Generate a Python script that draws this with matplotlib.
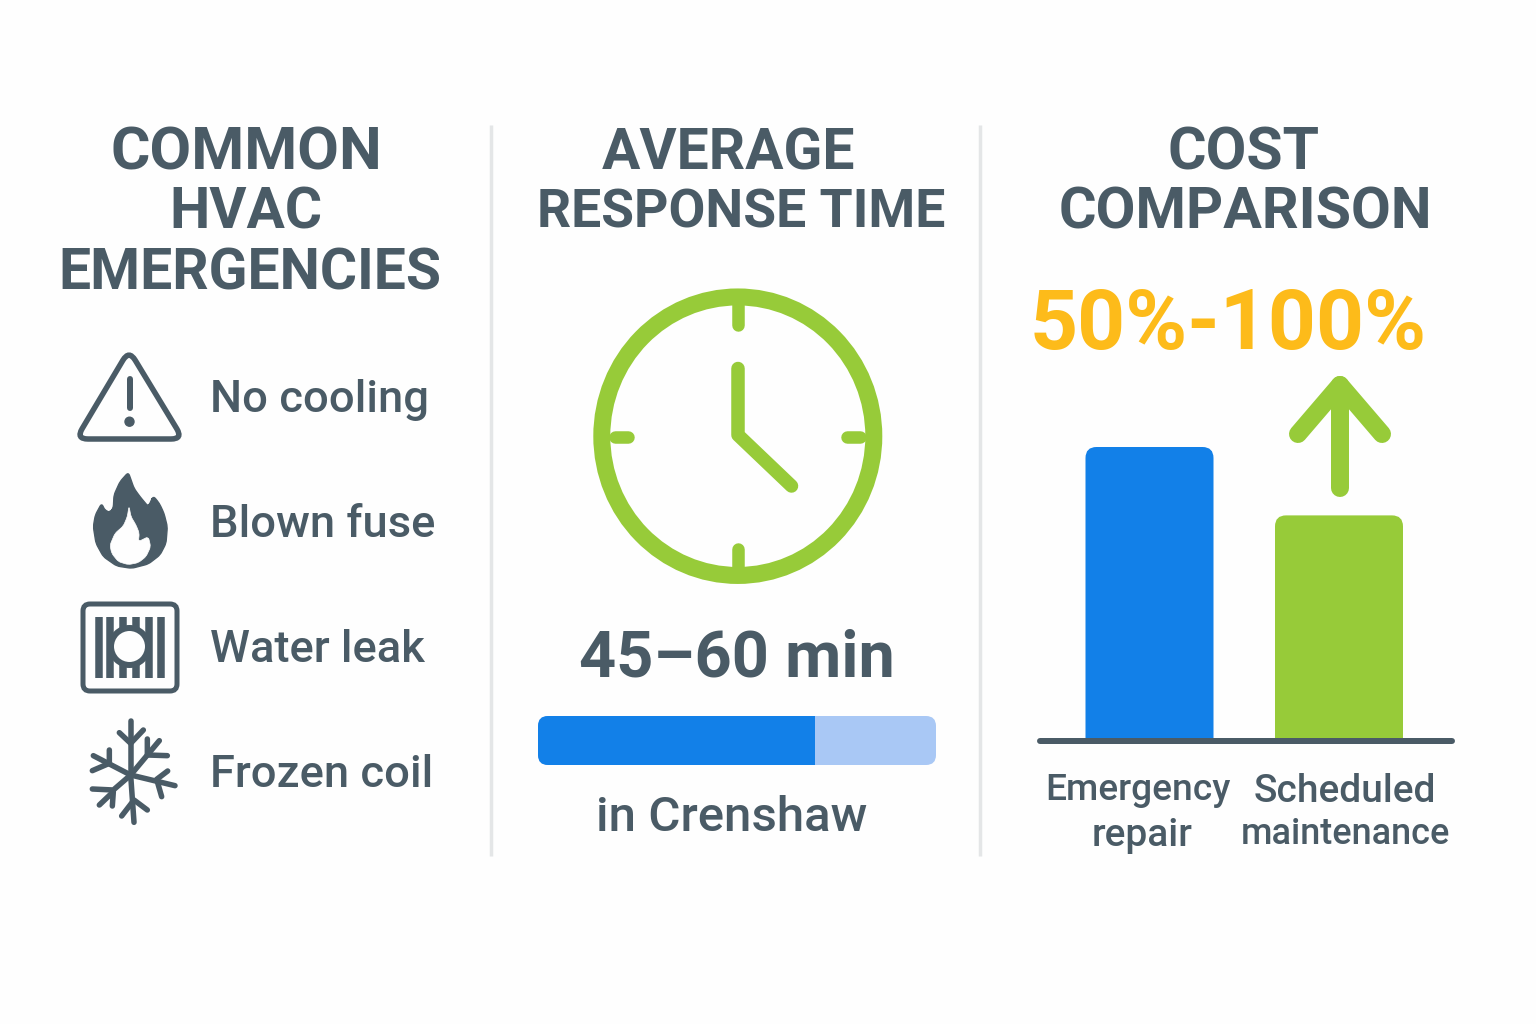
import math
import matplotlib
matplotlib.use('Agg')
import matplotlib.pyplot as plt
from matplotlib.patches import Circle, Ellipse, FancyBboxPatch, Rectangle, PathPatch
from matplotlib.path import Path

plt.rcParams['font.family'] = ['Roboto', 'DejaVu Sans']

# data
emergencies = ['No cooling', 'Blown fuse', 'Water leak', 'Frozen coil']
response_label = '45\u201360 min'
response_share = 0.695
cost_names = ['Emergency', 'repair', 'Scheduled', 'maintenance']
cost_values = [100, 76.5]
increase_label = '50%-100%'

SLATE = '#4a5b66'
BLUE = '#1280e8'
LIGHT = '#a9c8f5'
GREEN = '#97cb39'
YELLOW = '#fdbb1a'
GREY = '#e4e6e7'
BG = '#fefefe'

fig = plt.figure(figsize=(15.36, 10.24), dpi=100, facecolor=BG)
# whole canvas in pixel coordinates, y down
ax = fig.add_axes([0, 0, 1, 1])
ax.set_xlim(0, 1536)
ax.set_ylim(1024, 0)
ax.axis('off')

def px(w):
    return w * 0.72

def rounded_poly(pts, r):
    verts, codes = [], []
    n = len(pts)
    for i in range(n):
        p0, p1, p2 = pts[i - 1], pts[i], pts[(i + 1) % n]
        d0 = math.hypot(p0[0] - p1[0], p0[1] - p1[1])
        d2 = math.hypot(p2[0] - p1[0], p2[1] - p1[1])
        a = (p1[0] + (p0[0] - p1[0]) * r / d0, p1[1] + (p0[1] - p1[1]) * r / d0)
        b = (p1[0] + (p2[0] - p1[0]) * r / d2, p1[1] + (p2[1] - p1[1]) * r / d2)
        verts += [a, p1, b]
        codes += [Path.MOVETO if i == 0 else Path.LINETO, Path.CURVE3, Path.CURVE3]
    verts.append(verts[0])
    codes.append(Path.CLOSEPOLY)
    return Path(verts, codes)

def zoomed(pts, x0, y0):
    return [(x0 + x / 3, y0 + y / 3) for x, y in pts]

# column dividers
for x in [490.5, 979.5]:
    ax.plot([x, x], [125, 856], color=GREY, lw=2.5, solid_capstyle='butt')

# titles
def title(x, y, s, size):
    ax.text(x, y, s, ha='center', va='center', color=SLATE, fontsize=size, fontweight='bold')

title(246, 154, 'COMMON', 43.5)
title(246, 213, 'HVAC', 41)
title(250, 274, 'EMERGENCIES', 41)
title(729, 154, 'AVERAGE', 41)
title(741, 213, 'RESPONSE TIME', 38.5)
title(1243, 154, 'COST', 42.5)
title(1245, 213, 'COMPARISON', 41.5)

# left list
for lab, y in zip(emergencies, [400, 525, 650, 775]):
    ax.text(210, y, lab, ha='left', va='center', color=SLATE, fontsize=32.7, fontweight='medium')

# warning icon
tri = rounded_poly([(129, 350), (183, 439), (76, 439)], 12)
ax.add_patch(PathPatch(tri, fill=False, ec=SLATE, lw=px(5.5)))
ax.plot([129.5, 129.5], [379, 408], color=SLATE, lw=px(6), solid_capstyle='round')
ax.add_patch(Circle((129.5, 421.7), 4.5, color=SLATE))

# flame icon
flame = zoomed([(205, 397), (215, 425), (222, 445), (240, 470), (265, 500), (272, 485), (280, 468),
                (298, 490), (312, 520), (322, 560), (318, 610), (300, 645), (265, 672),
                (215, 685), (170, 678), (130, 650), (108, 610), (100, 560), (106, 525),
                (125, 490), (135, 512), (150, 518), (160, 505), (162, 465), (180, 425)], 60, 340)
ax.add_patch(PathPatch(rounded_poly(flame, 3.5), fc=SLATE, ec=SLATE, lw=1))
inner = zoomed([(207, 498), (213, 530), (228, 555), (238, 580), (235, 605), (265, 590), (272, 620),
                (258, 650), (235, 668), (205, 674), (175, 665), (155, 640), (150, 615),
                (165, 580), (190, 558), (202, 530)], 60, 340)
ax.add_patch(PathPatch(rounded_poly(inner, 3), fc=BG, ec=BG, lw=0.5))

# radiator icon
ax.add_patch(FancyBboxPatch((83, 604), 94, 87, boxstyle='round,pad=0,rounding_size=7',
                            fill=False, ec=SLATE, lw=px(5)))
for x in [98.7, 110.3, 123, 136, 148.7, 160.7]:
    ax.plot([x, x], [617, 678], color=SLATE, lw=px(7.5), solid_capstyle='butt')
ax.add_patch(Circle((129.5, 646.5), 18.5, fc=BG, ec=SLATE, lw=px(6), zorder=3))

# snowflake icon
flake_lines = [
    [(212, 555), (212, 392)], [(178, 428), (212, 460), (250, 420)],
    [(212, 555), (298, 452)], [(262, 447), (262, 495), (322, 497)],
    [(212, 555), (345, 587)], [(323, 543), (290, 568), (305, 620)],
    [(212, 555), (222, 697)], [(185, 678), (222, 630), (262, 660)],
    [(212, 555), (160, 600), (97, 597)], [(118, 645), (160, 605), (157, 648)],
    [(212, 555), (100, 497)], [(148, 480), (148, 520), (97, 542)],
]
for line in flake_lines:
    pts = zoomed(line, 60, 590)
    ax.plot([p[0] for p in pts], [p[1] for p in pts], color=SLATE, lw=px(5.5),
            solid_capstyle='round', solid_joinstyle='round')

# clock
ax.add_patch(Ellipse((737.8, 436.2), 272, 278.5, fill=False, ec=GREEN, lw=px(17)))
for (x0, y0, x1, y1) in [(738, 300, 738, 325), (738, 549, 738, 575), (615, 437, 628, 437), (847, 437, 860, 437)]:
    ax.plot([x0, x1], [y0, y1], color=GREEN, lw=px(12.5), solid_capstyle='round')
ax.plot([738, 738, 791.5], [368.5, 435, 486], color=GREEN, lw=px(13.5), solid_capstyle='round', solid_joinstyle='round')

ax.text(737, 659, response_label, ha='center', va='center', color=SLATE, fontsize=46.7, fontweight='bold')

# progress bar
bar_x0, bar_x1 = 538, 936
split = bar_x0 + (bar_x1 - bar_x0) * response_share
ax.add_patch(FancyBboxPatch((bar_x0, 716), bar_x1 - bar_x0, 49, boxstyle='round,pad=0,rounding_size=10',
                            fc=LIGHT, ec='none'))
clip = Rectangle((bar_x0, 716), split - bar_x0, 49, transform=ax.transData)
front = FancyBboxPatch((bar_x0, 716), bar_x1 - bar_x0, 49, boxstyle='round,pad=0,rounding_size=10',
                       fc=BLUE, ec='none')
ax.add_patch(front)
front.set_clip_path(clip)

ax.text(732, 818, 'in Crenshaw', ha='center', va='center', color=SLATE, fontsize=35.5, fontweight='medium')

# cost panel: bars drawn in their own axes
ax2 = fig.add_axes([1038 / 1536, 1 - 738 / 1024, 416 / 1536, (738 - 400) / 1024])
ax2.patch.set_alpha(0)
ax2.set_xlim(1038, 1454)
ax2.set_ylim(0, 338 * 100 / 291.0)
ax2.axis('off')
aspect = (338 * 100 / 291.0) / 338
for xc, v, col in zip([1149.5, 1339], cost_values, [BLUE, GREEN]):
    ax2.add_patch(FancyBboxPatch((xc - 64, -10), 128, v + 10, boxstyle='round,pad=0,rounding_size=11',
                                 mutation_aspect=aspect, fc=col, ec='none'))
ax.plot([1040, 1452], [741, 741], color=SLATE, lw=px(6), solid_capstyle='round', zorder=5)

ax.text(1228.5, 327, increase_label, ha='center', va='center', color=YELLOW, fontsize=60.5, fontweight='bold')

# arrow
ax.plot([1340, 1340], [488, 385], color=GREEN, lw=px(18), solid_capstyle='round')
ax.plot([1298, 1340, 1382], [434, 385, 434], color=GREEN, lw=px(18), solid_capstyle='round', solid_joinstyle='round')

for xc, y, s, size in zip([1138, 1142, 1345, 1345], [791, 835, 791, 835], cost_names, [26.7, 28, 28, 26]):
    ax.text(xc, y, s, ha='center', va='center', color=SLATE, fontsize=size, fontweight='medium')

fig.savefig('out.png', dpi=100, facecolor=fig.get_facecolor())
